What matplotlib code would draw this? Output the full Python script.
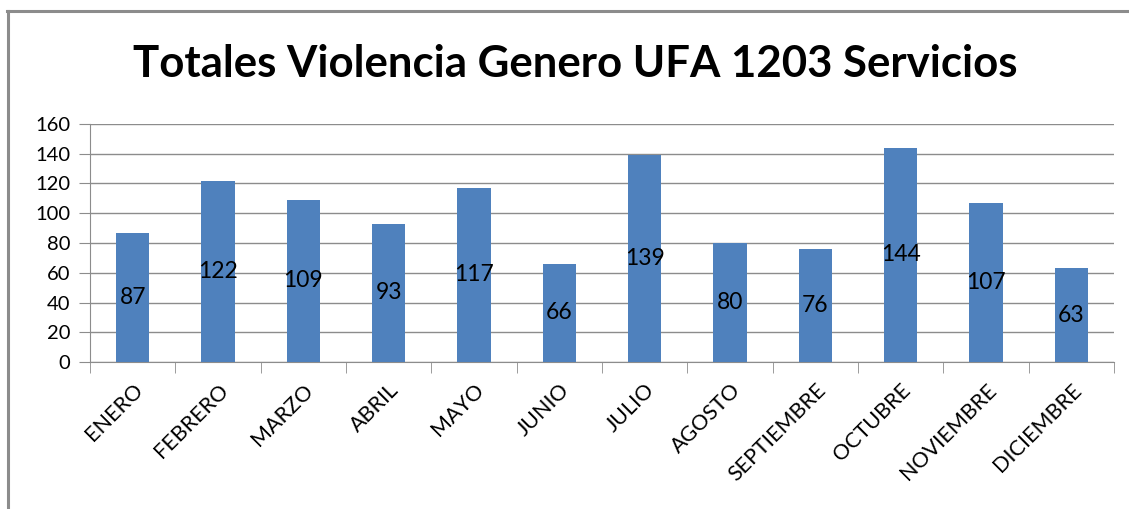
import matplotlib.pyplot as plt
from matplotlib.lines import Line2D

meses = ['ENERO', 'FEBRERO', 'MARZO', 'ABRIL', 'MAYO', 'JUNIO', 'JULIO',
         'AGOSTO', 'SEPTIEMBRE', 'OCTUBRE', 'NOVIEMBRE', 'DICIEMBRE']
totales = [87, 122, 109, 93, 117, 66, 139, 80, 76, 144, 107, 63]
yticks = [0, 20, 40, 60, 80, 100, 120, 140, 160]

plt.rcParams['font.family'] = ['Lato', 'DejaVu Sans']

W, H = 1129, 509
fig = plt.figure(figsize=(W / 100, H / 100), dpi=100)
ax = fig.add_axes([90 / W, 1 - 362 / H, (1114 - 90) / W, (362 - 124) / H])

x = list(range(len(meses)))
bars = ax.bar(x, totales, width=0.39, color='#4F81BD', zorder=3)
for xi, v in zip(x, totales):
    ax.text(xi, v / 2, str(v), ha='center', va='center', fontsize=16.5,
            color='black', zorder=4)

ax.set_xlim(-0.5, len(meses) - 0.5)
ax.set_ylim(0, 160)
ax.set_yticks(yticks)
ax.set_yticklabels([str(t) for t in yticks], fontsize=14.5)
ax.yaxis.grid(True, color='#8C8C8C', linewidth=1.0, zorder=0)
ax.tick_params(axis='y', length=8, color='#8C8C8C', pad=6)

# marcas del eje x entre categorias
ax.set_xticks([i - 0.5 for i in range(len(meses) + 1)], minor=True)
ax.set_xticks(x)
ax.set_xticklabels(meses, rotation=45, ha='right', rotation_mode='anchor',
                   fontsize=15.5)
ax.tick_params(axis='x', which='major', length=0, pad=13)
ax.tick_params(axis='x', which='minor', length=8, color='#8C8C8C')

for side in ['top', 'right']:
    ax.spines[side].set_visible(False)
for side in ['left', 'bottom']:
    ax.spines[side].set_color('#8C8C8C')

fig.text(575 / W, 1 - 64 / H, 'Totales Violencia Genero UFA 1203 Servicios',
         ha='center', va='center', fontsize=31.5, fontweight='bold')

# marco del grafico
fig.add_artist(Line2D([7 / W, 1], [1 - 10.5 / H, 1 - 10.5 / H],
                      color='#8C8C8C', linewidth=2.2))
fig.add_artist(Line2D([7.5 / W, 7.5 / W], [0, 1 - 10.5 / H],
                      color='#8C8C8C', linewidth=2.2))

fig.savefig('out.png', dpi=100)
